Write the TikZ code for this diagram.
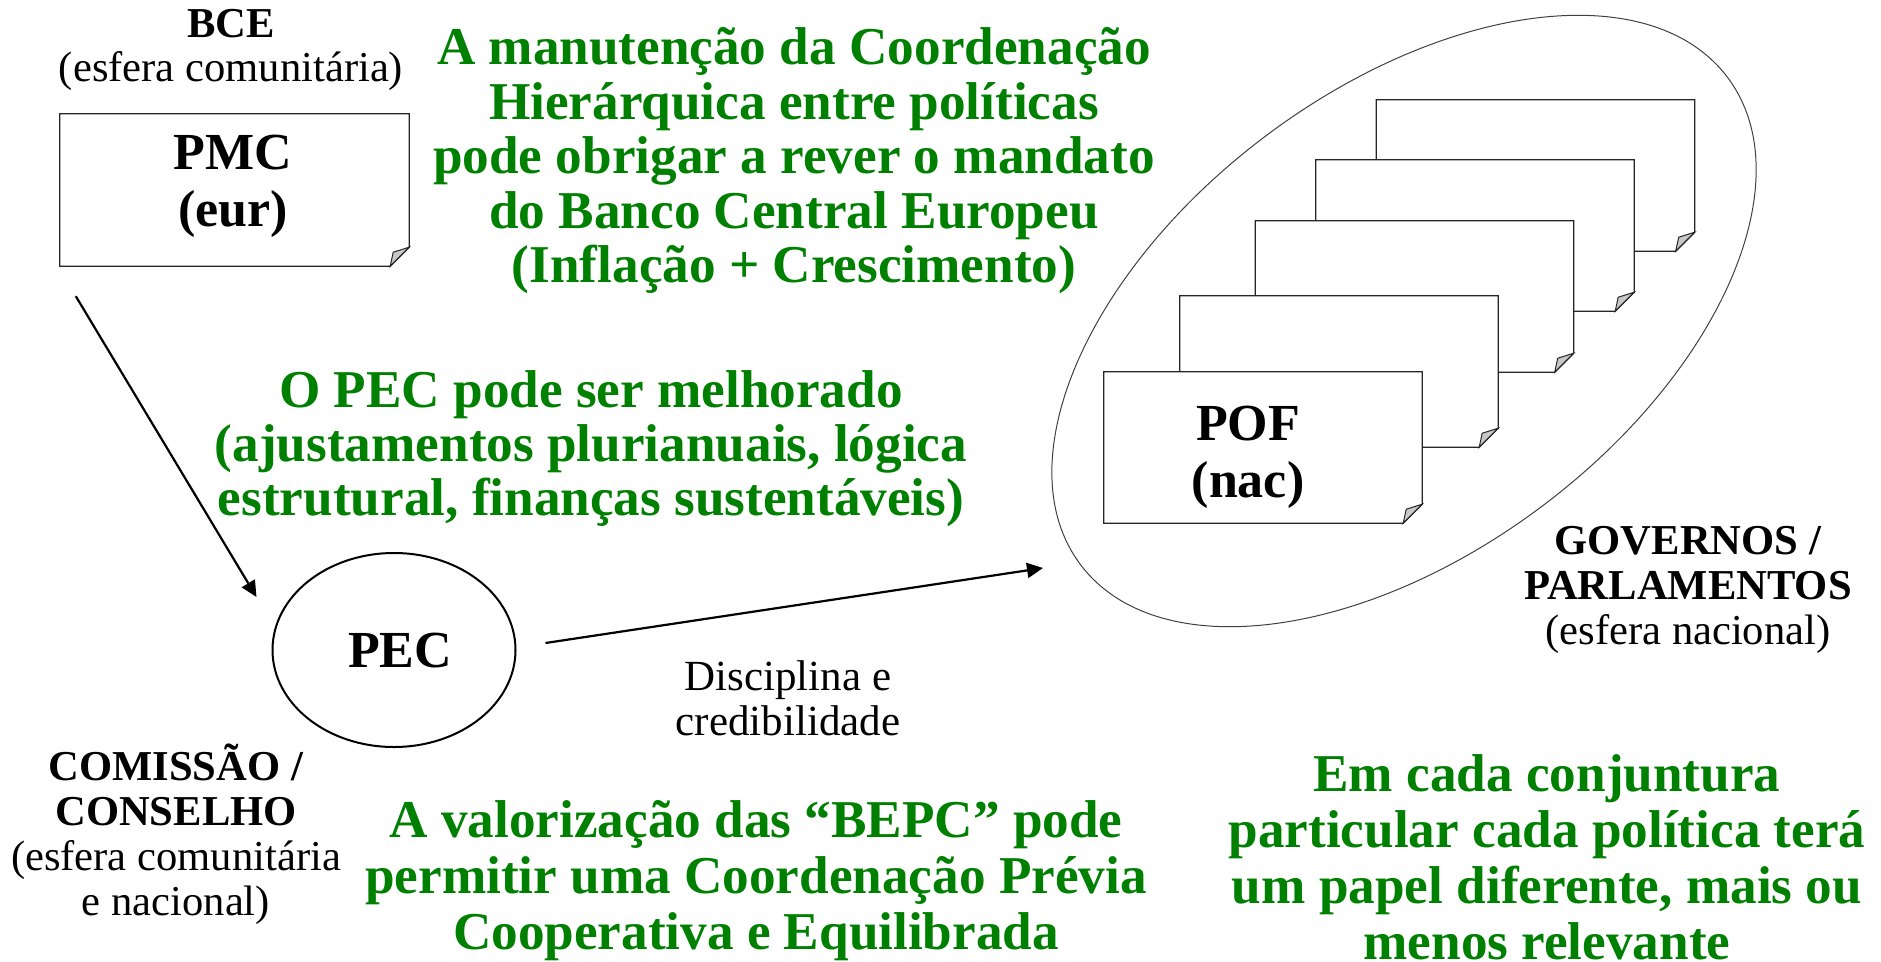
\documentclass[tikz,border=0pt]{standalone}
\usepackage{fontspec}
\setmainfont{Liberation Serif}
\usetikzlibrary{calc,arrows.meta,positioning,shapes.geometric}
\definecolor{greenx}{HTML}{008000}
\definecolor{foldgray}{HTML}{C8C8C8}
\tikzset{
  ar/.style={-{Triangle[length=16pt,width=15pt]},line width=2.2pt},
  lbl/.style={align=center,inner sep=0pt,font=\fontsize{42.6pt}{45pt}\selectfont},
  big/.style={align=center,inner sep=0pt,font=\bfseries\fontsize{52pt}{57pt}\selectfont},
  note/.style={align=center,inner sep=0pt,text=greenx,font=\bfseries\fontsize{53.2pt}{54.5pt}\selectfont},
  paper/.style={inner sep=0pt,minimum width=318pt,minimum height=151pt}
}
% sheet with a turned-down corner, drawn from the anchors of a node
\newcommand{\sheet}[1]{%
  \filldraw[fill=white,draw=black!85,line width=1.3pt]
    (#1.north west) -- (#1.north east) -- ($(#1.south east)+(0,-19)$)
    -- ($(#1.south east)+(-19,0)$) -- (#1.south west) -- cycle;
  \filldraw[fill=foldgray,draw=black!85,line width=1pt]
    ($(#1.south east)+(0,-19)$) -- ($(#1.south east)+(-16,-14)$)
    -- ($(#1.south east)+(-19,0)$) -- cycle;}

\begin{document}
\begin{tikzpicture}[x=1pt,y=-1pt]
\useasboundingbox (0,0) rectangle (1881,961);

% esfera nacional
\node[draw=black!75,line width=1pt,ellipse,rotate=37,minimum width=810pt,minimum height=462pt,inner sep=0pt] (nac) at (1404,321) {};
\node[paper] (pof5) at (1535.5,175.5) {}; \sheet{pof5}
\node[paper] (pof4) at (1475,235.5) {}; \sheet{pof4}
\node[paper] (pof3) at (1414.5,296.5) {}; \sheet{pof3}
\node[paper] (pof2) at (1339,371.5) {}; \sheet{pof2}
\node[paper] (pof1) at (1263,447.5) {}; \sheet{pof1}
\node[big] (poftxt) at (1248,457) {POF\\(nac)};
\node[lbl] (govlbl) at (1688,590) {\textbf{GOVERNOS /}\\\textbf{PARLAMENTOS}\\(esfera nacional)};

% esfera comunitaria
\node[lbl,font=\fontsize{42.6pt}{44pt}\selectfont] (bcelbl) at (231,50) {\textbf{BCE}\\(esfera comunitária)};
\node[paper,minimum width=349pt,minimum height=152pt] (pmc) at (234.5,190) {}; \sheet{pmc}
\node[big] (pmctxt) at (233,186) {PMC\\(eur)};
\node[draw,ellipse,line width=2pt,minimum width=243pt,minimum height=194pt,inner sep=0pt] (pec) at (394,650) {};
\node[big] (pectxt) at (400,651) {PEC};
\node[lbl] (comlbl) at (176,834) {\textbf{COMISSÃO /}\\\textbf{CONSELHO}\\(esfera comunitária\\e nacional)};

% setas
\coordinate (a1s) at ($(pmc.south west)+(16,30)$);
\coordinate (a1e) at ($(pec.west)+(-15,-53)$);
\coordinate (a2s) at ($(pec.east)+(29,-7)$);
\coordinate (a2e) at (1043,568);
\draw[ar] (a1s) -- (a1e);
\draw[ar] (a2s) -- (a2e);
\node[lbl,font=\fontsize{43pt}{45pt}\selectfont] (disclbl) at (788,698) {Disciplina e\\credibilidade};

% notas
\node[note] (notebce) at (794,161) {A manutenção da Coordenação\\Hierárquica entre políticas\\pode obrigar a rever o mandato\\do Banco Central Europeu\\(Inflação + Crescimento)};
\node[note,font=\bfseries\fontsize{53.2pt}{54pt}\selectfont] (notepec) at (591,449) {O PEC pode ser melhorado\\(ajustamentos plurianuais, lógica\\estrutural, finanças sustentáveis)};
\node[note,font=\bfseries\fontsize{53.2pt}{56pt}\selectfont] (notebepc) at (756,881) {A valorização das “BEPC” pode\\permitir uma Coordenação Prévia\\Cooperativa e Equilibrada};
\node[note,font=\bfseries\fontsize{53.2pt}{56pt}\selectfont] (noteconj) at (1547,857) {Em cada conjuntura\\particular cada política terá\\um papel diferente, mais ou\\menos relevante};
\end{tikzpicture}
\end{document}
